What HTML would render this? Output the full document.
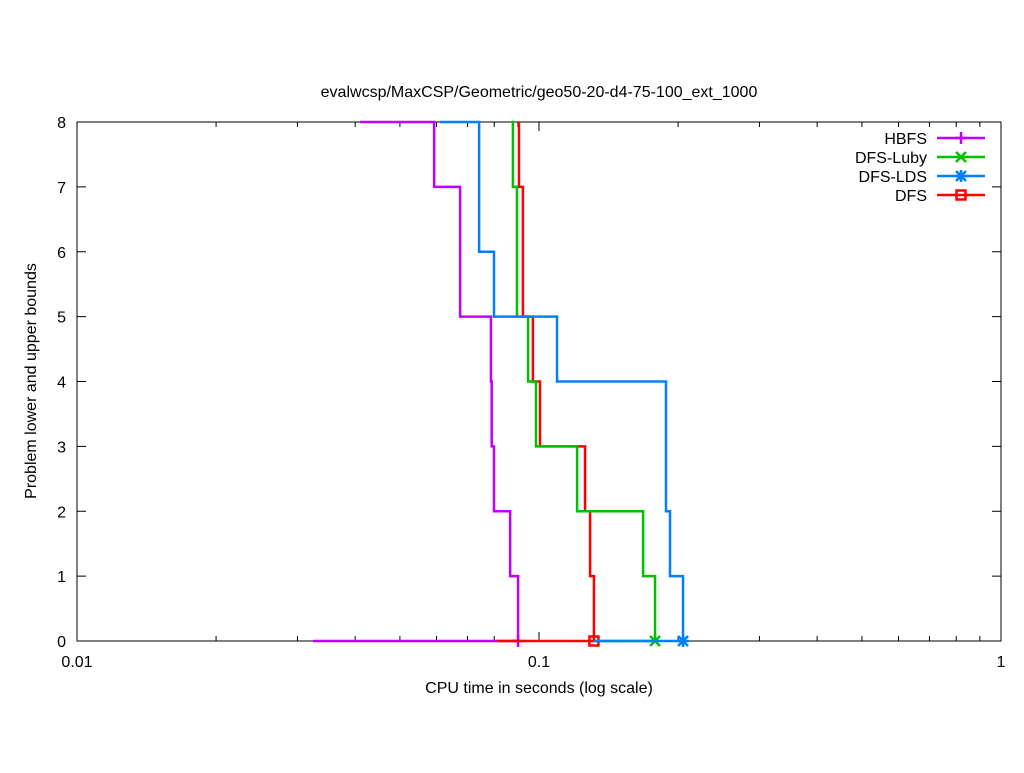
<!DOCTYPE html>
<html><head><meta charset="utf-8"><style>
body{margin:0;background:#fff;}
svg text{font-family:"Liberation Sans",Arial,sans-serif;font-size:16px;fill:#000;}
</style></head><body>
<svg id="chart" width="1024" height="768" xmlns="http://www.w3.org/2000/svg">
<rect width="1024" height="768" fill="#fff"/>
<text x="539" y="97" text-anchor="middle">evalwcsp/MaxCSP/Geometric/geo50-20-d4-75-100_ext_1000</text>
<text x="539" y="693" text-anchor="middle">CPU time in seconds (log scale)</text>
<text transform="translate(36,381) rotate(-90)" text-anchor="middle">Problem lower and upper bounds</text>
<g id="axes"></g>
<g id="series"></g>
<g id="legend"></g>
</svg>
<script>
const seriesNames = ["HBFS","DFS","DFS-Luby","DFS-LDS"];
const seriesColors = ["#c000ff","#ff0000","#00c000","#0080ff"];
const seriesMarkers = ["plus","square","cross","star"];
// upper-bound start time (bound 8)
const startTimes = [0.0410, 0.0905, 0.0874, 0.0611];
// times at which the bound drops to 7,6,5,4,3,2,1,0
const hbfsDrops = [0.0593,0.0675,0.0675,0.0787,0.0790,0.0799,0.0866,0.0901];
const dfsDrops  = [0.0905,0.0923,0.0923,0.0970,0.1005,0.1258,0.1290,0.1315];
const lubyDrops = [0.0878,0.0896,0.0896,0.0947,0.0985,0.1209,0.1680,0.1783];
const ldsDrops  = [0.0742,0.0742,0.0799,0.1094,0.1883,0.1883,0.1921,0.2050];
const dropSets = [hbfsDrops, dfsDrops, lubyDrops, ldsDrops];
// lower bound (0) start time
const lowerStarts = [0.0324, 0.0811, 0.1315, 0.1315];
const yTicks = [0,1,2,3,4,5,6,7,8];
const xMajor = [0.01,0.1,1];
const xMajorLabels = ["0.01","0.1","1"];

const NS="http://www.w3.org/2000/svg";
const L=77,R=1001,T=122,B=641;
const X=v=>L+(Math.log10(v)+2)/2*(R-L);
const Y=v=>B-v/8*(B-T);
function mk(tag,attrs,parent){const e=document.createElementNS(NS,tag);for(const k in attrs)e.setAttribute(k,attrs[k]);parent.appendChild(e);return e;}
const axes=document.getElementById('axes');
mk('rect',{x:L,y:T,width:R-L,height:B-T,fill:'none',stroke:'#000','stroke-width':1},axes);
yTicks.forEach(v=>{
  const y=Y(v);
  const t=mk('line',{x1:L,x2:L+9,y1:y,y2:y,stroke:'#000'},axes);
  
  
  mk('line',{x1:R-9,x2:R,y1:y,y2:y,stroke:'#000'},axes);
  const tx=mk('text',{x:L-11,y:y+6,'text-anchor':'end'},axes);tx.textContent=v;
  
  
});
xMajor.forEach((v,i)=>{
  const x=X(v);
  mk('line',{x1:x,x2:x,y1:B,y2:B-9,stroke:'#000'},axes);
  mk('line',{x1:x,x2:x,y1:T,y2:T+9,stroke:'#000'},axes);
  const tx=mk('text',{x:x,y:B+26,'text-anchor':'middle'},axes);tx.textContent=xMajorLabels[i];
  
  
  if(i<xMajor.length-1){for(let m=2;m<=9;m++){const xm=X(v*m);
    mk('line',{x1:xm,x2:xm,y1:B,y2:B-5,stroke:'#000'},axes);
    mk('line',{x1:xm,x2:xm,y1:T,y2:T+5,stroke:'#000'},axes);}}
});
function marker(type,x,y,c,g){
  const a={stroke:c,'stroke-width':2.5,fill:'none'};
  if(type==='plus'){mk('path',Object.assign({d:`M${x-6},${y}H${x+6}M${x},${y-6}V${y+6}`},a),g);}
  else if(type==='cross'){mk('path',Object.assign({d:`M${x-5},${y-5}L${x+5},${y+5}M${x-5},${y+5}L${x+5},${y-5}`},a),g);}
  else if(type==='star'){mk('path',Object.assign({d:`M${x-5},${y-5}L${x+5},${y+5}M${x-5},${y+5}L${x+5},${y-5}M${x-6},${y}H${x+6}M${x},${y-6}V${y+6}`},a),g);}
  else {mk('rect',Object.assign({x:x-4.5,y:y-4.5,width:9,height:9},a),g);}
}
const sg=document.getElementById('series');
[0,1,2,3].forEach(i=>{
  const c=seriesColors[i];const drops=dropSets[i];
  let d=`M${X(startTimes[i])},${Y(8)}`;
  drops.forEach((t,k)=>{d+=`H${X(t)}V${Y(7-k)}`;});
  const p=mk('path',{d:d,fill:'none',stroke:c,'stroke-width':2.5},sg);
  
  
  const end=drops[drops.length-1];
  const lb=mk('line',{x1:X(lowerStarts[i]),x2:X(end),y1:Y(0),y2:Y(0),stroke:c,'stroke-width':2.5},sg);
  
  
  marker(seriesMarkers[i],X(end),Y(0),c,sg);
});
const lg=document.getElementById('legend');
const legendOrder=[0,2,3,1];
legendOrder.forEach((i,k)=>{
  const y=138+k*19;
  const g=mk('g',{},lg);
  
  
  const t=mk('text',{x:927,y:y+6,'text-anchor':'end'},g);t.textContent=seriesNames[i];
  mk('line',{x1:937,x2:985,y1:y,y2:y,stroke:seriesColors[i],'stroke-width':2.5},g);
  marker(seriesMarkers[i],961,y,seriesColors[i],g);
});
</script>
</body></html>
